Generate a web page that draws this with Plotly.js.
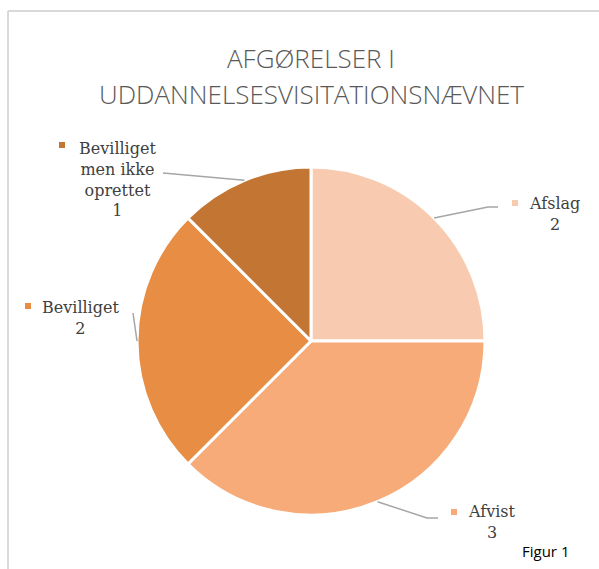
<!DOCTYPE html>
<html><head><meta charset="utf-8">
<script src="https://cdn.plot.ly/plotly-3.0.1.min.js"></script>
<style>html,body{margin:0;padding:0;background:#fff;}#chart{width:599px;height:569px;}</style>
</head><body><div id="chart"></div>
<script>
const labels = ["Afslag", "Afvist", "Bevilliget", "Bevilliget men ikke oprettet"];
const labelLines = ["Afslag", "Afvist", "Bevilliget", "Bevilliget<br>men ikke<br>oprettet"];
const values = [2, 3, 2, 1];
const colors = ["#f8cbb0", "#f6ab78", "#e88e44", "#c37534"];
const titleLines = ["AFGØRELSER I", "UDDANNELSESVISITATIONSNÆVNET"];
const captionText = "Figur 1";

const W = 599, H = 569;
const px = x => x / W;
const py = y => 1 - y / H;
// pie geometry (layout)
const cx = 311, cy = 341, R = 174;

// label layout (pixel anchors): text centre, marker, leader elbow points
const labelPos = [
  {tx: 554, ty: 213.5, mx: 515, my: 203, elbow: [[488, 207], [498, 207]]},
  {tx: 492, ty: 522, mx: 454, my: 512, elbow: [[427, 518], [438, 518]]},
  {tx: 81, ty: 318, mx: 28, my: 306, elbow: [[133, 313]]},
  {tx: 117, ty: 179.5, mx: 62, my: 145, elbow: [[163, 173]]}
];
const titleY = [58, 94];

const total = values.reduce((a, b) => a + b, 0);
const annotations = [];
const shapes = [];
let cum = 0;
values.forEach((v, i) => {
  const mid = (cum + v / 2) / total * 2 * Math.PI;
  cum += v;
  const ex = cx + R * Math.sin(mid), ey = cy - R * Math.cos(mid);
  const p = labelPos[i];
  let path = `M${px(ex)},${py(ey)}`;
  p.elbow.forEach(e => { path += ` L${px(e[0])},${py(e[1])}`; });
  shapes.push({type: 'path', xref: 'paper', yref: 'paper', path: path,
    line: {color: '#a6a6a6', width: 1.5}});
  shapes.push({type: 'rect', xref: 'paper', yref: 'paper',
    x0: px(p.mx - 3), x1: px(p.mx + 3), y0: py(p.my + 3), y1: py(p.my - 3),
    fillcolor: colors[i], line: {width: 0}});
  annotations.push({xref: 'paper', yref: 'paper', x: px(p.tx), y: py(p.ty),
    xanchor: 'center', yanchor: 'middle', align: 'center', showarrow: false,
    text: labelLines[i] + "<br>" + v,
    font: {family: "DejaVu Serif", size: 16, color: '#404040'}});
});

// title lines
titleLines.forEach((t, i) => {
  annotations.push({xref: 'paper', yref: 'paper', x: px(311), y: py(titleY[i]), xanchor: 'center', yanchor: 'middle',
    showarrow: false, text: t, font: {family: "Open Sans", size: 26, color: '#595959', weight: 300}});
});

// frame
shapes.push({type: 'line', xref: 'paper', yref: 'paper', x0: px(8), x1: px(W + 5), y0: py(11), y1: py(11), line: {color: '#d9d9d9', width: 2}});
shapes.push({type: 'line', xref: 'paper', yref: 'paper', x0: px(8), x1: px(8), y0: py(11), y1: py(H + 5), line: {color: '#d9d9d9', width: 2}});

annotations.push({xref: 'paper', yref: 'paper', x: px(545), y: py(551), xanchor: 'center', yanchor: 'middle',
  showarrow: false, text: captionText, font: {family: "Open Sans", size: 15, color: '#000'}});

const trace = {
  type: 'pie', labels: labels, values: values, sort: false, direction: 'clockwise', rotation: 0,
  marker: {colors: colors, line: {color: '#ffffff', width: 3}},
  textinfo: 'none', hoverinfo: 'label+value',
  domain: {x: [px(cx - R), px(cx + R)], y: [py(cy + R), py(cy - R)]}
};

const layout = {
  width: W, height: H, margin: {l: 0, r: 0, t: 0, b: 0},
  paper_bgcolor: '#fff', showlegend: false,
  annotations: annotations, shapes: shapes
};
Plotly.newPlot('chart', [trace], layout, {displayModeBar: false, staticPlot: true});
</script></body></html>
